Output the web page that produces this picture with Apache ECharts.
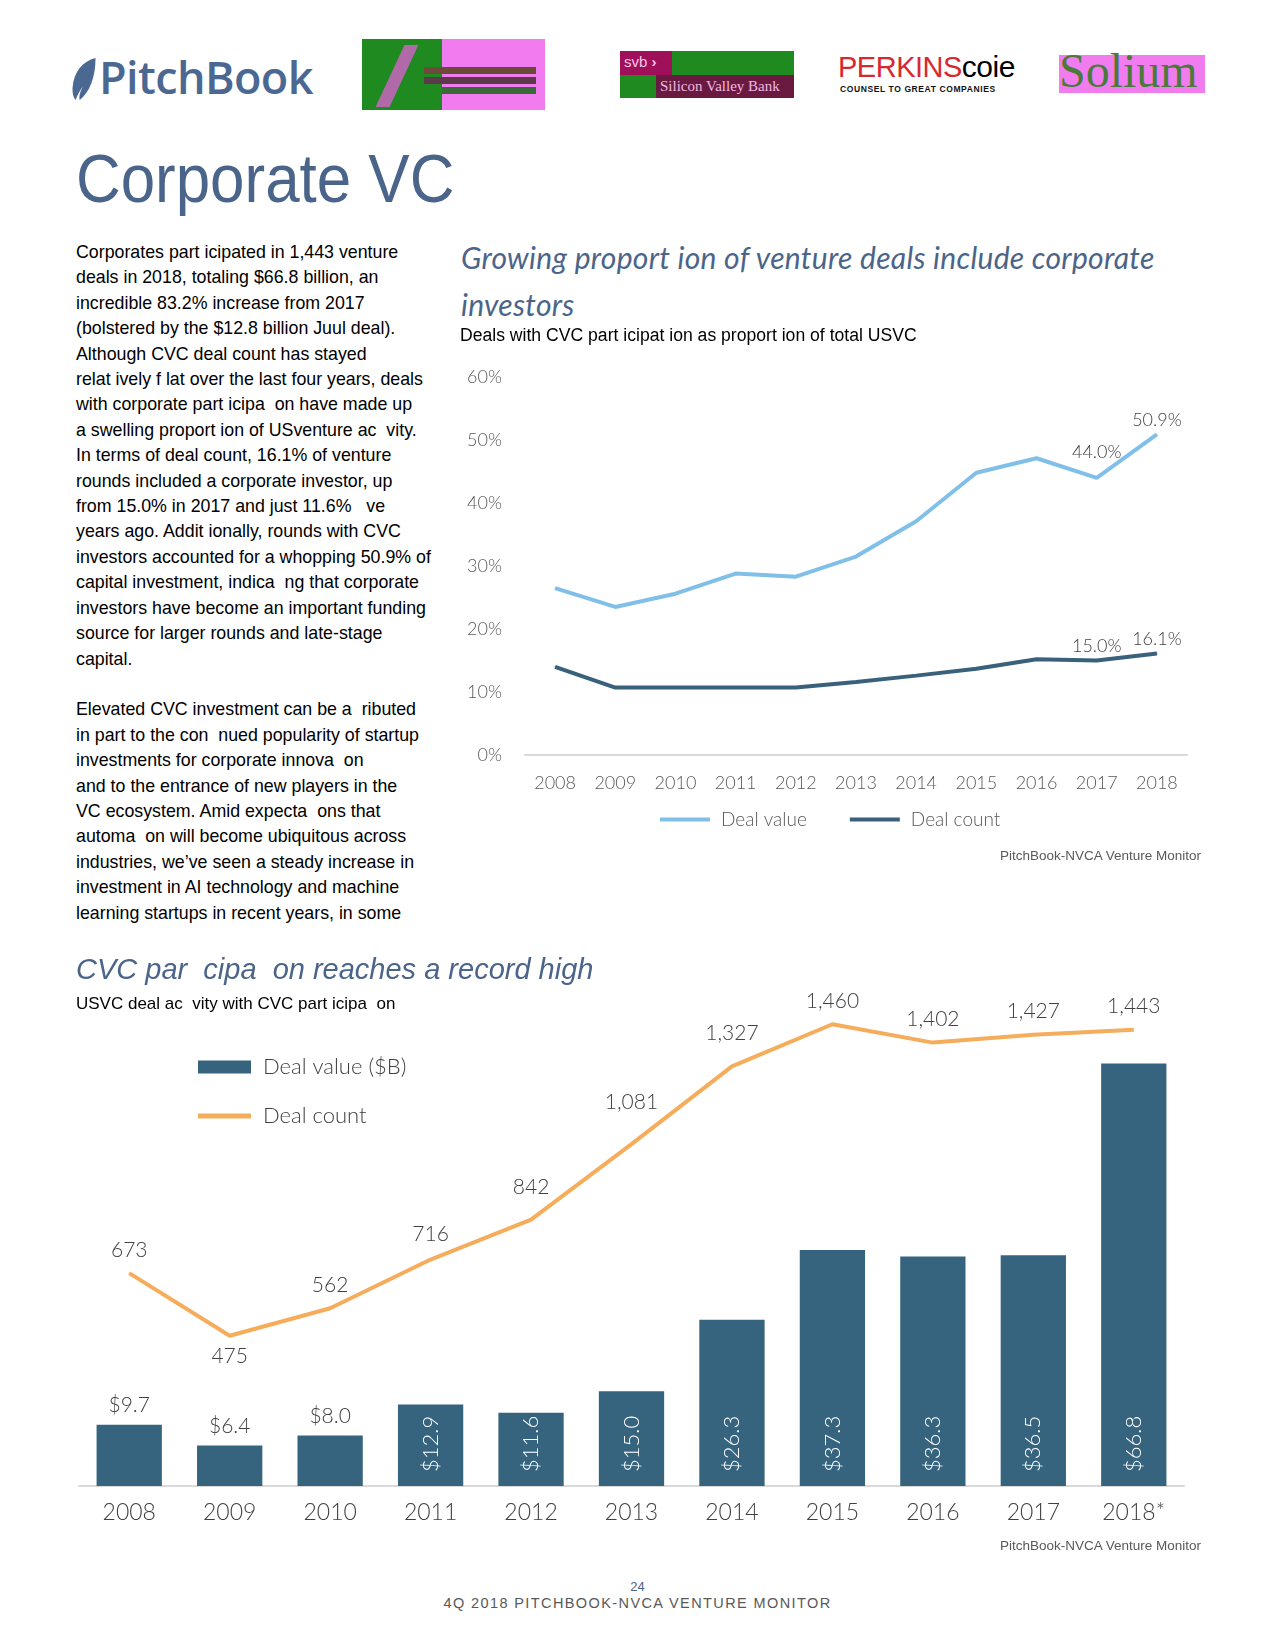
<!DOCTYPE html>
<html>
<head>
<meta charset="utf-8">
<script src="https://cdn.jsdelivr.net/npm/echarts@6/dist/echarts.min.js"></script>
<style>
html,body{margin:0;padding:0;background:#fff;}
#page{position:relative;width:1275px;height:1650px;background:#fff;overflow:hidden;}
.abs{position:absolute;white-space:pre;z-index:2;}
.body{font-family:"Liberation Sans",Arial,sans-serif;font-size:17.8px;line-height:25.4px;color:#000;}
.ctitle{color:#4b6489;font-style:italic;}
.sub{font-family:"Liberation Sans",Arial,sans-serif;color:#000;}
.src{font-family:"Liberation Sans",Arial,sans-serif;font-size:13.5px;color:#595959;text-align:right;}
</style>
</head>
<body>
<div id="page">
  <!-- header logos -->
  <svg class="abs" style="left:70px;top:57px" width="28" height="44" viewBox="0 0 26 42">
    <path d="M24,1 C12,4 3,14 2,30 C2,35 3,39 5,41 C7,36 9,32 12,28 C9,34 8,38 9,41 C18,34 24,20 24,1 Z" fill="#4b6892"/>
  </svg>
  <div class="abs" style="left:99px;top:46px;font-family:'Open Sans',sans-serif;font-weight:600;font-size:45px;color:#4b6892;letter-spacing:-0.6px">PitchBook</div>

  <div class="abs" style="left:362px;top:39px;width:183px;height:71px;background:#1f8a1f;overflow:hidden">
    <div style="position:absolute;left:80px;top:0;width:103px;height:71px;background:#f07cf0"></div>
    <div style="position:absolute;left:28px;top:6px;width:14px;height:62px;background:#b06aa8;transform:skewX(-25deg)"></div>
    <div style="position:absolute;left:62px;top:28px;width:112px;height:7px;background:#6b4a3a"></div>
    <div style="position:absolute;left:62px;top:38px;width:112px;height:7px;background:#5d3a4a"></div>
    <div style="position:absolute;left:80px;top:48px;width:94px;height:7px;background:#3a6a3a"></div>
  </div>

  <div class="abs" style="left:620px;top:51px;width:174px;height:47px;background:#1f8a1f;overflow:hidden">
    <div style="position:absolute;left:0;top:0;width:52px;height:24px;background:#a0105a;color:#f6c6e6;font-family:'Liberation Sans',sans-serif;font-size:15px;line-height:22px;padding-left:4px;box-sizing:border-box">svb <b>›</b></div>
    <div style="position:absolute;left:36px;top:24px;width:138px;height:23px;background:#6a1a40;color:#f0b8e0;font-family:'Liberation Serif',serif;font-size:15px;line-height:23px;padding-left:4px;box-sizing:border-box">Silicon Valley Bank</div>
  </div>

  <div class="abs" style="left:838px;top:52px;font-family:'Liberation Sans',sans-serif;font-size:29px;letter-spacing:-0.5px;line-height:30px"><span style="color:#d7282f">PERKINS</span><span style="color:#000;font-size:30px">coie</span></div>
  <div class="abs" style="left:840px;top:84px;font-family:'Liberation Sans',sans-serif;font-size:8.5px;font-weight:bold;letter-spacing:0.6px;color:#111">COUNSEL TO GREAT COMPANIES</div>

  <div class="abs" style="left:1059px;top:55px;width:146px;height:38px;background:#f07cf0"></div>
  <div class="abs" style="left:1059px;top:44px;font-family:'Liberation Serif',serif;font-size:48px;line-height:54px;color:#4a7a3a">Solium</div>

  <!-- page title -->
  <div class="abs" style="left:76px;top:138px;font-family:'Liberation Sans',Arial,sans-serif;font-size:68px;line-height:80px;color:#4b6489;transform:scaleX(0.91);transform-origin:0 0">Corporate VC</div>

  <!-- body text -->
  <div class="abs body" style="left:76px;top:240px">Corporates part icipated in 1,443 venture
deals in 2018, totaling $66.8 billion, an
incredible 83.2% increase from 2017
(bolstered by the $12.8 billion Juul deal).
Although CVC deal count has stayed
relat ively f lat over the last four years, deals
with corporate part icipa  on have made up
a swelling proport ion of USventure ac  vity.
In terms of deal count, 16.1% of venture
rounds included a corporate investor, up
from 15.0% in 2017 and just 11.6%   ve
years ago. Addit ionally, rounds with CVC
investors accounted for a whopping 50.9% of
capital investment, indica  ng that corporate
investors have become an important funding
source for larger rounds and late-stage
capital.

Elevated CVC investment can be a  ributed
in part to the con  nued popularity of startup
investments for corporate innova  on
and to the entrance of new players in the
VC ecosystem. Amid expecta  ons that
automa  on will become ubiquitous across
industries, we’ve seen a steady increase in
investment in AI technology and machine
learning startups in recent years, in some</div>

  <!-- chart 1 texts -->
  <div class="abs ctitle" style="left:461px;top:234px;font-family:Lato,sans-serif;font-size:30px;letter-spacing:0.3px;line-height:46.5px">Growing proport ion of venture deals include corporate
investors</div>
  <div class="abs sub" style="left:460px;top:325px;font-size:17.6px">Deals with CVC part icipat ion as proport ion of total USVC</div>
  <div class="abs src" style="right:74px;top:848px">PitchBook-NVCA Venture Monitor</div>

  <!-- chart 2 texts -->
  <div class="abs ctitle" style="left:76px;top:951px;font-family:'Liberation Sans',Arial,sans-serif;font-size:29px;line-height:36px">CVC par  cipa  on reaches a record high</div>
  <div class="abs sub" style="left:76px;top:994px;font-size:17px">USVC deal ac  vity with CVC part icipa  on</div>
  <div class="abs src" style="right:74px;top:1538px">PitchBook-NVCA Venture Monitor</div>

  <!-- footer -->
  <div class="abs" style="left:0;width:1275px;text-align:center;top:1579px;font-family:'Liberation Sans',sans-serif;font-size:13px;color:#4b6489">24</div>
  <div class="abs" style="left:0;width:1275px;text-align:center;top:1595px;font-family:'Liberation Sans',sans-serif;font-size:14.5px;letter-spacing:1.4px;color:#595959">4Q 2018 PITCHBOOK-NVCA VENTURE MONITOR</div>

  <div id="c1" style="position:absolute;left:440px;top:340px;width:800px;height:540px;z-index:1"></div>
  <div id="c2" style="position:absolute;left:40px;top:960px;width:1200px;height:600px;z-index:1"></div>
</div>

<script>
// ---- data: chart 1 (share of US VC) ----
var years = ['2008','2009','2010','2011','2012','2013','2014','2015','2016','2017','2018'];
var dealValuePct = [26.5, 23.5, 25.6, 28.8, 28.3, 31.5, 37.1, 44.8, 47.1, 44.0, 50.9];
var dealCountPct = [14.0, 10.7, 10.7, 10.7, 10.7, 11.6, 12.6, 13.7, 15.2, 15.0, 16.1];
var pctAxis = {min: 0, max: 60, interval: 10};

// ---- data: chart 2 (CVC deal activity) ----
var barYears = ['2008','2009','2010','2011','2012','2013','2014','2015','2016','2017','2018*'];
var dealValueB = [9.7, 6.4, 8.0, 12.9, 11.6, 15.0, 26.3, 37.3, 36.3, 36.5, 66.8];
var dealCount = [673, 475, 562, 716, 842, 1081, 1327, 1460, 1402, 1427, 1443];

var LIGHT = '#80c0e8', DARK = '#39617c', BAR = '#36647e', ORANGE = '#f5ad5c';
var labelFont = {fontFamily: 'Lato, sans-serif', fontWeight: 300};

// label only the last two points; lift a label that sits in a dip below its neighbour
function lastLabels(arr) {
  return arr.map(function (v, i) {
    if (i < arr.length - 2) return {value: v};
    var dip = i < arr.length - 1 && arr[i + 1] - v > 3;
    return {value: v, label: {show: true, position: 'top', distance: dip ? 16 : 5, color: '#404040', fontSize: 18,
      fontFamily: 'Lato, sans-serif', fontWeight: 300, formatter: function (p) { return p.value.toFixed(1) + '%'; }}};
  });
}

var c1 = echarts.init(document.getElementById('c1'), null, {renderer: 'canvas'});
c1.setOption({
  animation: false,
  grid: {left: 85, right: 53, top: 37, bottom: 125},
  legend: {
    data: ['Deal value', 'Deal count'], left: 215, top: 465, icon: 'rect',
    itemWidth: 50, itemHeight: 4, itemGap: 43,
    textStyle: Object.assign({fontSize: 19, color: '#595959', padding: [0, 0, 0, 6]}, labelFont)
  },
  xAxis: {
    type: 'category', data: years, boundaryGap: true,
    axisLine: {lineStyle: {color: '#d9d9d9', width: 2}}, axisTick: {show: false},
    axisLabel: Object.assign({color: '#595959', fontSize: 18, margin: 19, interval: 0}, labelFont)
  },
  yAxis: {
    type: 'value', min: pctAxis.min, max: pctAxis.max, interval: pctAxis.interval,
    axisLine: {show: false}, axisTick: {show: false}, splitLine: {show: false},
    axisLabel: Object.assign({color: '#595959', fontSize: 18, margin: 23, formatter: '{value}%'}, labelFont)
  },
  series: [
    {name: 'Deal value', type: 'line', data: lastLabels(dealValuePct), symbol: 'circle', symbolSize: 1,
     lineStyle: {width: 4, color: LIGHT}, itemStyle: {color: LIGHT}},
    {name: 'Deal count', type: 'line', data: lastLabels(dealCountPct), symbol: 'circle', symbolSize: 1,
     lineStyle: {width: 4, color: DARK}, itemStyle: {color: DARK}}
  ]
});

var c2 = echarts.init(document.getElementById('c2'), null, {renderer: 'canvas'});
var barData = dealValueB.map(function (v) {
  var inside = v >= 10;
  return {
    value: v,
    label: inside
      ? {show: true, position: 'insideBottom', rotate: 90, align: 'left', verticalAlign: 'middle', distance: 14,
         color: '#ffffff', fontSize: 22, fontFamily: 'Lato, sans-serif', fontWeight: 300}
      : {show: true, position: 'top', distance: 9, color: '#404040', fontSize: 21, fontFamily: 'Lato, sans-serif', fontWeight: 300}
  };
});
var minCount = Math.min.apply(null, dealCount);
var countData = dealCount.map(function (v, i) {
  var prev = i > 0 ? dealCount[i - 1] : v, next = i < dealCount.length - 1 ? dealCount[i + 1] : v;
  var rise = Math.max(0, next - prev - 250);           // steep climb: keep label clear of the line
  return {value: v, label: v === minCount
    ? {position: 'bottom', distance: 9}
    : {position: 'top', distance: 12 + Math.min(20, rise * 0.08)}};
});
c2.setOption({
  animation: false,
  grid: {left: 39, right: 56, top: 20, bottom: 74},
  legend: [
    {data: ['Deal value ($B)'], orient: 'vertical', left: 153, top: 91, icon: 'rect', itemWidth: 53, itemHeight: 13,
     textStyle: Object.assign({fontSize: 22, color: '#404040', padding: [0, 0, 0, 7]}, labelFont)},
    {data: ['Deal count'], orient: 'vertical', left: 153, top: 140, icon: 'rect', itemWidth: 53, itemHeight: 5,
     textStyle: Object.assign({fontSize: 22, color: '#404040', padding: [0, 0, 0, 7]}, labelFont)}
  ],
  xAxis: {
    type: 'category', data: barYears,
    axisLine: {lineStyle: {color: '#d9d9d9', width: 2}}, axisTick: {show: false},
    axisLabel: Object.assign({color: '#404040', fontSize: 23, margin: 15, interval: 0}, labelFont)
  },
  yAxis: [
    {type: 'value', min: 0, max: 80, show: false, splitLine: {show: false}},
    {type: 'value', min: 0, max: 1600, show: false, splitLine: {show: false}}
  ],
  series: [
    {name: 'Deal value ($B)', type: 'bar', data: barData, barWidth: '65%', itemStyle: {color: BAR},
     label: {formatter: function (p) { return '$' + p.value.toFixed(1); }}},
    {name: 'Deal count', type: 'line', yAxisIndex: 1, data: countData, symbol: 'circle', symbolSize: 1,
     lineStyle: {width: 4, color: ORANGE}, itemStyle: {color: ORANGE},
     label: {show: true, color: '#404040', fontSize: 21, fontFamily: 'Lato, sans-serif', fontWeight: 300,
             formatter: function (p) { return p.value.toLocaleString('en-US'); }}}
  ]
});
</script>
</body>
</html>
